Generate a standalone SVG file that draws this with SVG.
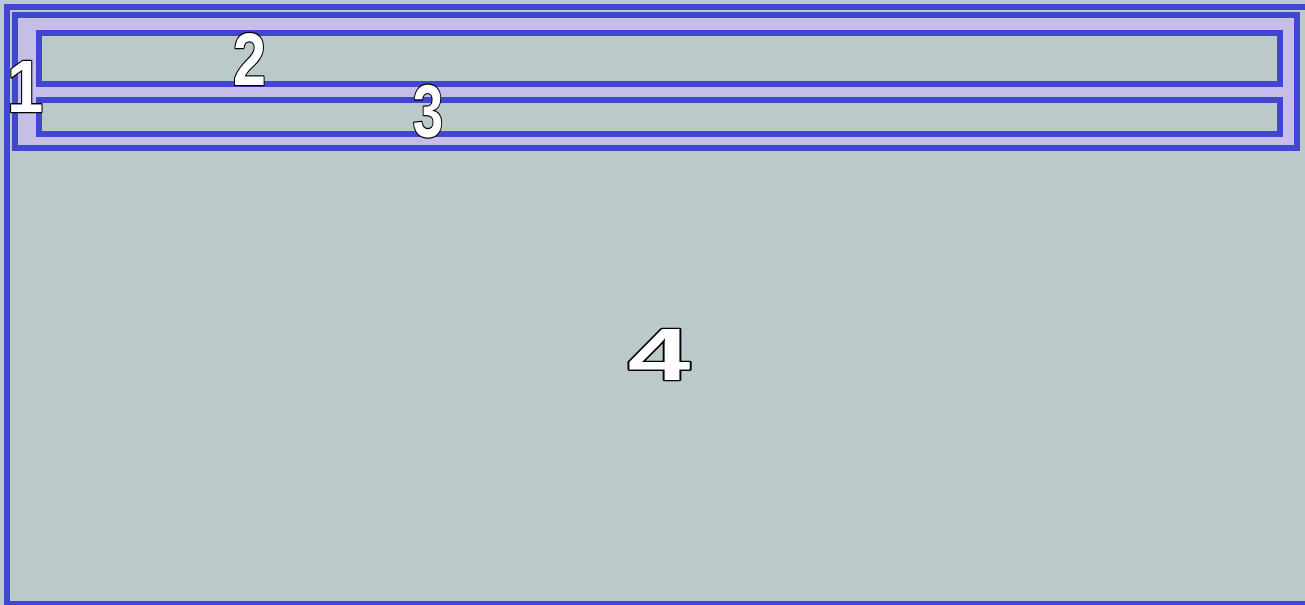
<svg xmlns="http://www.w3.org/2000/svg" width="1305" height="605" viewBox="0 0 1305 605">
  <style>
    .frame { stroke: #4146d0; stroke-width: 6; }
    .gray { fill: #bbc9ca; }
    .lav { fill: #c6bee6; }
    .lbl { font-family: "Liberation Sans", Arial, sans-serif; font-weight: bold; font-size: 74px; fill: #ffffff; stroke: #000000; stroke-width: 2.6; paint-order: stroke; stroke-linejoin: round; text-anchor: middle; }
  </style>
  <rect x="0" y="0" width="1305" height="605" fill="#bbc9ca"/>
  <g id="node4">
    <rect class="frame gray" x="7" y="7" width="1310" height="597"/>
  </g>
  <g id="node1">
    <rect class="frame lav" x="15" y="15" width="1282" height="133"/>
  </g>
  <g id="node2">
    <rect class="frame gray" x="39" y="33" width="1241" height="51"/>
  </g>
  <g id="node3">
    <rect class="frame gray" x="39" y="100" width="1241" height="34"/>
  </g>
  <g id="labels">
    <text class="lbl" transform="translate(25,112) scale(0.88,1)">1</text>
    <text class="lbl" transform="translate(249.5,85) scale(0.8,1)">2</text>
    <text class="lbl" transform="translate(428,136.5) scale(0.74,1)">3</text>
    <text class="lbl" transform="translate(659,380) scale(1.52,1)">4</text>
  </g>
</svg>
